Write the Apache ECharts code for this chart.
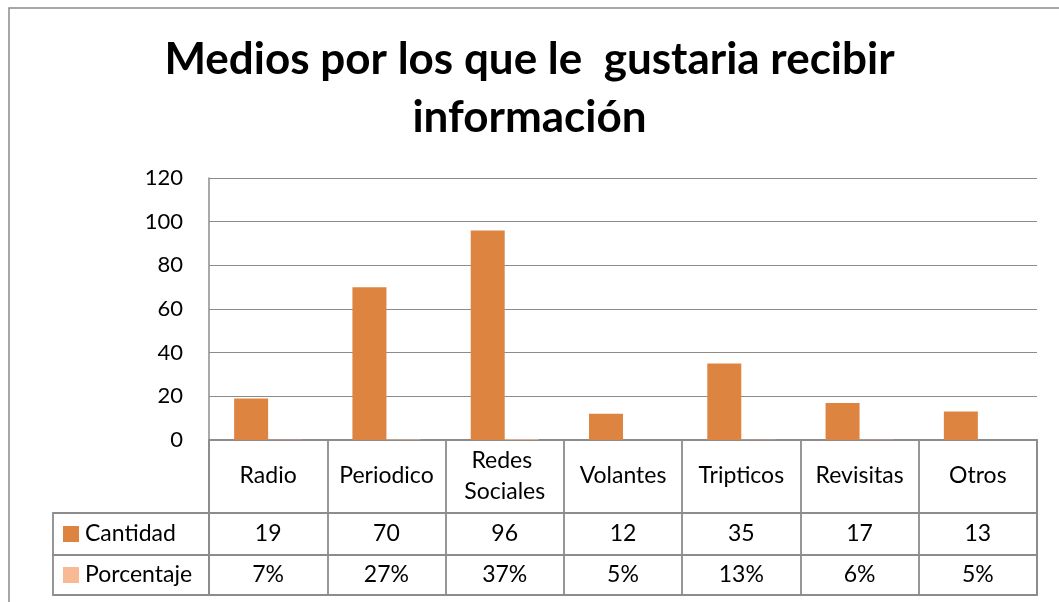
<!DOCTYPE html>
<html>
<head>
<meta charset="utf-8">
<script src="https://cdn.jsdelivr.net/npm/echarts@6/dist/echarts.min.js"></script>
<style>
html, body { margin: 0; padding: 0; background: #fff; }
#main { width: 1059px; height: 602px; }
</style>
</head>
<body>
<div id="main"></div>
<script>
var categories = ['Radio', 'Periodico', 'Redes Sociales', 'Volantes', 'Tripticos', 'Revisitas', 'Otros'];
var cantidad = [19, 70, 96, 12, 35, 17, 13];
var porcentaje = [7, 27, 37, 5, 13, 6, 5];   // en %
var yMin = 0, yMax = 120, yStep = 20;

var FONT = 'Lato';
var lineColor = '#8c8c8c';
var barColor = '#DE8441';
var pctColor = '#F9B994';
var labelSize = 23;

// fila de la tabla de datos (debajo del grafico)
function rowXAxis(grid, margin, fmt) {
    return {
        type: 'category',
        gridIndex: grid,
        position: 'top',
        data: categories,
        axisLine: { show: false },
        axisTick: { show: false },
        splitLine: { show: true, lineStyle: { color: lineColor, width: 1.8 } },
        axisLabel: {
            inside: true,
            margin: margin,
            verticalAlign: 'middle',
            interval: 0,
            color: '#000',
            fontFamily: FONT,
            fontSize: labelSize,
            lineHeight: 31,
            width: 114,
            overflow: 'break',
            formatter: fmt
        }
    };
}

function rowYAxis(grid, name, sqColor) {
    return {
        type: 'category',
        gridIndex: grid,
        data: [name],
        axisLine: { show: false },
        axisTick: { show: false },
        splitLine: { show: false },
        axisLabel: {
            show: !!name,
            align: 'left',
            margin: 146,
            formatter: '{sq|}{t|' + name + '}',
            rich: {
                sq: { width: 16, height: 16, backgroundColor: sqColor },
                t: { color: '#000', fontFamily: FONT, fontSize: labelSize, padding: [0, 0, 0, 6] }
            }
        }
    };
}

var cellGrid = { show: true, borderColor: lineColor, borderWidth: 1.8 };

var myChart = echarts.init(document.getElementById('main'));
var option = {
    animation: false,
    backgroundColor: '#fff',
    title: {
        text: 'Medios por los que le  gustaria recibir\ninformación',
        left: 'center',
        top: 26,
        textStyle: {
            fontFamily: FONT,
            fontWeight: 'bold',
            fontSize: 44,
            lineHeight: 58,
            color: '#000'
        }
    },
    graphic: [{
        type: 'rect',
        shape: { x: 9, y: 8, width: 1080, height: 620 },
        style: { fill: 'none', stroke: '#8a8a8a', lineWidth: 1.5 },
        silent: true
    }],
    grid: [
        { left: 209, right: 22, top: 178, height: 262 },
        Object.assign({ left: 209, right: 22, top: 440, height: 73 }, cellGrid),
        Object.assign({ left: 209, right: 22, top: 513, height: 42 }, cellGrid),
        Object.assign({ left: 209, right: 22, top: 555, height: 40 }, cellGrid),
        Object.assign({ left: 53, width: 156, top: 513, height: 42 }, cellGrid),
        Object.assign({ left: 53, width: 156, top: 555, height: 40 }, cellGrid)
    ],
    xAxis: [
        {
            type: 'category',
            gridIndex: 0,
            data: categories,
            axisLine: { show: false },
            axisTick: { show: false },
            axisLabel: { show: false }
        },
        rowXAxis(1, 36, function (v) { return v; }),
        rowXAxis(2, 21, function (v, i) { return String(cantidad[i]); }),
        rowXAxis(3, 20, function (v, i) { return porcentaje[i] + '%'; })
    ],
    yAxis: [
        {
            type: 'value',
            gridIndex: 0,
            min: yMin,
            max: yMax,
            interval: yStep,
            axisLine: { show: true, lineStyle: { color: lineColor, width: 1.5 } },
            axisTick: { show: false },
            splitLine: { show: true, lineStyle: { color: lineColor, width: 1.2 } },
            axisLabel: { color: '#000', fontFamily: FONT, fontSize: 22, margin: 26 }
        },
        rowYAxis(1, '', null),
        rowYAxis(2, 'Cantidad', barColor),
        rowYAxis(3, 'Porcentaje', pctColor)
    ],
    series: [
        {
            name: 'Cantidad',
            type: 'bar',
            xAxisIndex: 0,
            yAxisIndex: 0,
            barWidth: 34,
            barGap: '0%',
            itemStyle: { color: barColor },
            data: cantidad
        },
        {
            name: 'Porcentaje',
            type: 'bar',
            xAxisIndex: 0,
            yAxisIndex: 0,
            barWidth: 34,
            barGap: '0%',
            itemStyle: { color: pctColor },
            data: porcentaje.map(function (p) { return p / 100; })
        }
    ]
};
myChart.setOption(option);
</script>
</body>
</html>
